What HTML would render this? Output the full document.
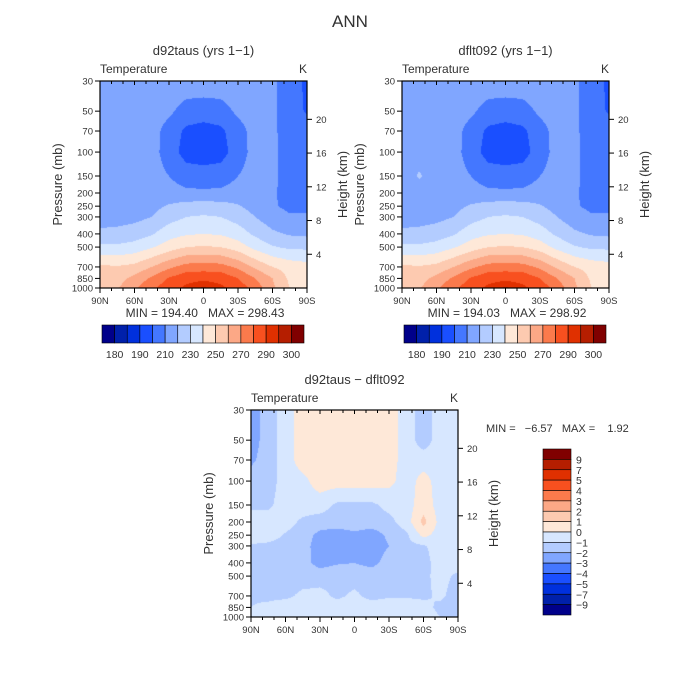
<!DOCTYPE html>
<html><head><meta charset="utf-8">
<style>
body{margin:0;background:#fff;}
#wrap{position:relative;width:700px;height:700px;overflow:hidden;font-family:"Liberation Sans",sans-serif;}
canvas{position:absolute;}
svg{position:absolute;left:0;top:0;}
text{fill:#333;font-family:"Liberation Sans",sans-serif;white-space:pre;}
</style></head>
<body>
<div id="wrap">
<canvas id="c1" width="207" height="207" style="left:100px;top:81px"></canvas>
<canvas id="c2" width="207" height="207" style="left:402px;top:81px"></canvas>
<canvas id="c3" width="207" height="207" style="left:251px;top:410px"></canvas>
<svg id="s" width="700" height="700"></svg>
</div>
<script>
const lats=[90,75,60,45,30,15,0,-15,-30,-45,-60,-75,-90];
const levels=[30,50,70,100,150,200,250,300,400,500,700,850,1000];
const pTicks=[30,50,70,100,150,200,250,300,400,500,700,850,1000];
const latTicks=[90,60,30,0,-30,-60,-90];
const latLabels=["90N","60N","30N","0","30S","60S","90S"];
const hTicks=[20,16,12,8,4];
const colors=["#00008a","#0020aa","#0030dd","#1a4fff","#4477ff","#80a6ff","#b3ccff","#d7e7ff","#fee8d8","#fdcab0","#fca886","#fb7a4c","#f8501f","#e03000","#b51e00","#800000"];
const tLevels=[180,185,190,200,210,220,230,240,250,260,270,280,290,295,300];
const tLabels=["180","","190","","210","","230","","250","","270","","290","","300"];
const dLevels=[-9,-7,-5,-4,-3,-2,-1,0,1,2,3,4,5,7,9];
const dLabels=["9","7","5","4","3","2","1","0","\u22121","\u22122","\u22123","\u22124","\u22125","\u22127","\u22129"];
const fieldA=[
[216,216,216,216,216,216,216,216,216,215,212,205,198],
[216,216,216,215,212,206,205,206,212,215,212,204,199],
[216,216,216,214,206,198,196,198,206,214,212,205,205],
[216,216,216,214,205,196,195,196,205,214,212,206,206],
[215,215,215,214,210,205,204,205,210,214,212,206,206],
[215,215,215,215,214,212,212,212,214,213,211,207,207],
[214,214,215,217,221,224,225,224,221,216,211,208,208],
[216,216,217,220,226,230,231,230,226,220,214,211,211],
[222,223,225,229,236,239,240,239,235,228,222,219,218],
[232,232,234,239,245,250,251,250,245,237,231,228,228],
[252,251,253,260,268,274,275,274,268,258,250,246,244],
[255,256,263,272,281,287,288,287,280,270,260,248,244],
[256,259,268,278,286,292,296,292,286,276,262,250,246]];
const fieldB=[
[216,216,216,216,216,216,216,216,216,215,212,205,198],
[216,216,216,215,212,206,205,206,212,215,212,204,199],
[216,216,216,214,206,198,196,198,206,214,212,205,205],
[216,216,216,214,205,196,195,196,205,214,212,206,206],
[215,221,215,214,210,205,204,205,210,214,212,206,206],
[215,215,215,215,214,212,212,212,214,213,211,207,207],
[214,214,215,217,221,224,225,224,221,216,211,208,208],
[216,216,217,220,226,230,231,230,226,220,214,211,211],
[222,223,225,229,236,239,240,239,235,228,222,219,218],
[232,232,234,239,245,250,251,250,245,237,231,228,228],
[252,251,253,260,268,274,275,274,268,258,250,246,244],
[255,256,263,272,281,287,288,287,280,270,260,248,244],
[256,259,268,278,286,292,296,292,286,276,262,250,246]];
const fieldD=[
[-2.5,-1.5,-0.5,0.5,0.5,0.5,0.5,0.5,0.5,-0.5,-1.5,-0.5,-0.5],
[-2.5,-1.5,-0.5,0.5,0.5,0.5,0.5,0.5,0.5,-0.5,-1.5,-0.5,-0.5],
[-2.2,-1.5,-0.5,0.5,0.5,0.5,0.5,0.5,0.5,-0.5,-0.5,-0.5,-0.5],
[-1.5,-1.5,-0.5,-0.3,0.5,0.5,0.5,0.5,0.3,-0.5,0.4,-0.5,-0.5],
[-1.2,-1.2,-0.5,-0.5,-0.5,-1.2,-1.2,-1.2,-0.7,-0.5,0.6,-0.5,-0.5],
[-0.5,-0.5,-0.6,-1.2,-1.5,-1.5,-1.5,-1.5,-1.3,-0.5,1.3,-0.4,-0.5],
[-0.5,-0.6,-1.1,-1.5,-2.3,-2.5,-2.2,-2.5,-1.8,-1.2,0.3,-0.5,-0.5],
[-1.1,-1.2,-1.3,-1.6,-2.5,-2.5,-2.5,-2.5,-2.0,-1.3,-1.1,-0.6,-0.5],
[-1.2,-1.3,-1.4,-1.6,-2.4,-2.1,-2.0,-2.3,-1.6,-1.4,-1.3,-0.6,-0.5],
[-1.2,-1.3,-1.4,-1.4,-1.4,-1.3,-1.4,-1.4,-1.3,-1.2,-1.2,-0.7,-1.2],
[-1.1,-1.2,-1.2,-0.8,-0.7,-1.2,-0.8,-1.3,-1.1,-1.1,-1.2,-0.8,-1.5],
[-1.0,-0.8,-0.5,-0.5,-0.5,-0.5,-0.5,-0.5,-0.5,-0.5,-0.6,-1.3,-1.6],
[-0.9,-0.5,-0.5,-0.5,-0.5,-0.5,-0.5,-0.5,-0.5,-0.5,-0.5,-1.0,-1.6]];

const W=207,H=207;
const lp0=Math.log(30),lp1=Math.log(1000);
function yOfP(p){return (Math.log(p)-lp0)/(lp1-lp0)*H;}
function xOfLat(l){return (90-l)/180*W;}
function binIndex(v,lv){let i=0;while(i<lv.length&&v>=lv[i])i++;return i;}
function hexRGB(h){return [parseInt(h.substr(1,2),16),parseInt(h.substr(3,2),16),parseInt(h.substr(5,2),16)];}
const rgb=colors.map(hexRGB);
const rowY=levels.map(yOfP), colX=lats.map(xOfLat);
function drawField(id,field,lv){
  const ctx=document.getElementById(id).getContext('2d');
  const img=ctx.createImageData(W,H);
  for(let py=0;py<H;py++){
    const y=py+0.5;let r=0;while(r<rowY.length-2&&y>rowY[r+1])r++;
    const ty=Math.min(1,Math.max(0,(y-rowY[r])/(rowY[r+1]-rowY[r])));
    for(let px=0;px<W;px++){
      const x=px+0.5;let c=0;while(c<colX.length-2&&x>colX[c+1])c++;
      const tx=Math.min(1,Math.max(0,(x-colX[c])/(colX[c+1]-colX[c])));
      const v=(field[r][c]*(1-tx)+field[r][c+1]*tx)*(1-ty)+(field[r+1][c]*(1-tx)+field[r+1][c+1]*tx)*ty;
      const col=rgb[binIndex(v,lv)];const k=(py*W+px)*4;
      img.data[k]=col[0];img.data[k+1]=col[1];img.data[k+2]=col[2];img.data[k+3]=255;
    }
  }
  ctx.putImageData(img,0,0);
}
drawField('c1',fieldA,tLevels);
drawField('c2',fieldB,tLevels);
drawField('c3',fieldD,dLevels);

const NS="http://www.w3.org/2000/svg";const svg=document.getElementById('s');
function el(tag,attrs,parent,txt){const e=document.createElementNS(NS,tag);for(const k in attrs)e.setAttribute(k,attrs[k]);if(txt!==undefined)e.textContent=txt;(parent||svg).appendChild(e);return e;}
function txt(x,y,s,size,name,anchor){const t=el('text',{x:x,y:y,'font-size':size,'text-anchor':anchor||'middle'},svg,s);
  
  return t;}

function panel(ox,oy,title,key){
  const g=el('g',{transform:`translate(${ox},${oy})`});
  
  
  el('rect',{x:0,y:0,width:W,height:H,fill:'none',stroke:'#000','stroke-width':1.2},g);
  pTicks.forEach(p=>{const y=yOfP(p);el('line',{x1:-5,x2:0,y1:y,y2:y,stroke:'#000'},g);
    const t=el('text',{x:-7,y:y+3.5,'font-size':9.5,'text-anchor':'end'},g,String(p));
    
    });
  for(let l=90;l>=-90;l-=10){const x=xOfLat(l);const major=l%30===0;
    el('line',{x1:x,x2:x,y1:H,y2:H+(major?5:3),stroke:'#000'},g);
    el('line',{x1:x,x2:x,y1:0,y2:(major?4:3),stroke:'#000'},g);}
  latTicks.forEach((l,i)=>{const t=el('text',{x:xOfLat(l),y:H+16,'font-size':9.5,'text-anchor':'middle'},g,latLabels[i]);
    
    });
  hTicks.forEach(h=>{const y=yOfP(1000*Math.exp(-h/7));el('line',{x1:W,x2:W+5,y1:y,y2:y,stroke:'#000'},g);
    const t=el('text',{x:W+9,y:y+3.5,'font-size':9.5},g,String(h));
    
    });
  const a=el('text',{x:0,y:-8,'font-size':12},g,'Temperature');
  
  
  const k=el('text',{x:W,y:-8,'font-size':12,'text-anchor':'end'},g,'K');
  
  
  const tt=el('text',{x:W/2,y:-26,'font-size':13,'text-anchor':'middle'},g,title);
  
  
  const yl=el('text',{x:0,y:0,'font-size':13,'text-anchor':'middle',transform:`translate(-38,${H/2}) rotate(-90)`},g,'Pressure (mb)');
  
  
  const yr=el('text',{x:0,y:0,'font-size':13,'text-anchor':'middle',transform:`translate(${W+40},${H/2}) rotate(-90)`},g,'Height (km)');
  
  
}
panel(100,81,'d92taus (yrs 1\u22121)','left-panel');
panel(402,81,'dflt092 (yrs 1\u22121)','right-panel');
panel(251,410,'d92taus \u2212 dflt092','diff-panel');
txt(350,27,'ANN',17,'figure-title');
txt(205,317,'MIN = 194.40   MAX = 298.43',12,'left-minmax');
txt(507,317,'MIN = 194.03   MAX = 298.92',12,'right-minmax');
txt(486,432,'MIN =   \u22126.57   MAX =    1.92',11,'diff-minmax','start');

function hbar(ox,name){
  const g=el('g',{});
  
  
  const bw=202/colors.length;
  colors.forEach((c,i)=>{el('rect',{x:ox+i*bw,y:325,width:bw,height:18,fill:c,stroke:'#000','stroke-width':0.6},g);});
  tLabels.forEach((v,i)=>{if(!v)return;const t=el('text',{x:ox+(i+1)*bw,y:358,'font-size':10.5,'text-anchor':'middle'},g,v);
    
    });
}
hbar(102,'left-colorbar');hbar(404,'right-colorbar');
(function(){
  const g=el('g',{});
  
  
  const bh=166/colors.length;
  colors.slice().reverse().forEach((c,i)=>{el('rect',{x:543,y:449+i*bh,width:28,height:bh,fill:c,stroke:'#000','stroke-width':0.6},g);});
  dLabels.forEach((s,i)=>{const t=el('text',{x:576,y:449+(i+1)*bh+4,'font-size':10.5},g,s);
    
    });
})();
</script>
</body></html>
